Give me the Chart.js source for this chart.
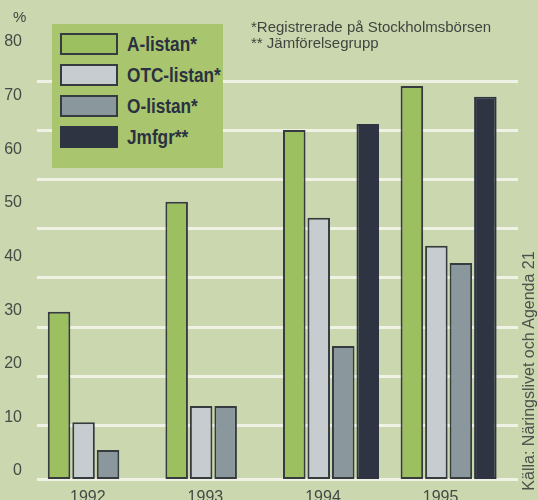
<!DOCTYPE html>
<html>
<head>
<meta charset="utf-8">
<script src="https://cdn.jsdelivr.net/npm/chart.js"></script>
<style>
  body { margin: 0; background: #cbd7af; overflow: hidden; }
  #wrap { position: relative; width: 538px; height: 500px; }
  #myChart { position: absolute; left: 0; top: 0; }
  .txt { position: absolute; font-family: "Liberation Sans", Arial, sans-serif; color: #3f443e; white-space: nowrap; }
  #pct { left: 13px; top: 8px; font-size: 15px; }
  #note { left: 251px; top: 19px; font-size: 15px; line-height: 16px; }
  #source { left: 399px; top: 361px; width: 260px; height: 20px; line-height: 20px; font-size: 16px;
            text-align: center; transform: rotate(-90deg); color: #4c514b; }
  #legend { position: absolute; left: 52px; top: 24px; width: 171px; height: 144px;
            background: #a9c66f; box-sizing: border-box; padding-top: 9px; }
  #legend .item { height: 31px; display: flex; align-items: flex-start; white-space: nowrap; }
  #legend .swatch { display: inline-block; flex: none; width: 58px; height: 22px; margin-left: 8px;
                    box-sizing: border-box; border: 2px solid #363b3f; }
  #legend .lbl { display: inline-block; margin-left: 9px; line-height: 22px; font-size: 21px; font-weight: bold;
                 font-family: "Liberation Sans", Arial, sans-serif; color: #2b3140;
                 transform: scaleX(0.82); transform-origin: left center; }
</style>
</head>
<body>
<div id="wrap">
  <canvas id="myChart" width="538" height="500"></canvas>
  <div id="legend"></div>
  <div class="txt" id="pct">%</div>
  <div class="txt" id="note">*Registrerade på Stockholmsbörsen<br>** Jämförelsegrupp</div>
  <div class="txt" id="source">Källa: Näringslivet och Agenda 21</div>
</div>
<script>
//Bar chart of share (%) per year for the Stockholm lists and the comparison group

//Years on the x axis (also the tick labels)
var years = [1992, 1993, 1994, 1995];

//Series names and values (%)
var seriesNames = ["A-listan*", "OTC-listan*", "O-listan*", "Jmfgr**"];
var aListan = [31.2, 51.7, 65.1, 73.3];
var otcListan = [10.6, 13.6, 48.7, 43.5];
var oListan = [5.4, 13.6, 24.8, 40.3];
var jmfgr = [null, null, 66.2, 71.3];

var fillColors = ["#9cc060", "#c6cccf", "#8a989d", "#2f3443"];
var borderCol = "#363b3f";
var gridCol = "#eff2e4";
var tickCol = "#454a45";
var tickFont = { family: "Liberation Sans", size: 16 };

//build one dataset per series
var datasets = [aListan, otcListan, oListan, jmfgr].map(function (vals, i) {
    return {
        label: seriesNames[i],
        data: years.map(function (yr, j) { return { x: yr, y: vals[j] }; }),
        backgroundColor: fillColors[i],
        borderColor: i === 3 ? fillColors[3] : borderCol,
        borderWidth: 2,
        borderSkipped: false,
        categoryPercentage: 0.833,
        barPercentage: 0.92
    };
});

var infoChart = new Chart("myChart", {
    type: "bar",
    data: { datasets: datasets },
    options: {
        responsive: false,
        animation: false,
        layout: { padding: { top: 50, right: 20, left: 0, bottom: 0 } },
        plugins: { legend: { display: false }, tooltip: { enabled: false } },
        scales: {
            x: {
                type: "linear",
                offset: false,
                min: 1991.5,
                max: 1995.59,
                grid: { display: false, offset: false },
                border: { display: false },
                ticks: {
                    stepSize: 1, includeBounds: false, autoSkip: false, labelOffset: -8, padding: 1,
                    color: tickCol, font: tickFont,
                    callback: function (v) { return Number.isInteger(v) ? String(v) : null; }
                },
                afterFit: function (s) { s.height = 21; }
            },
            y: {
                min: 0,
                max: 80,
                grid: { display: false },
                border: { display: false },
                ticks: { stepSize: 10, labelOffset: -8, padding: 7, color: tickCol, font: tickFont },
                afterFit: function (s) { s.width = 37; }
            },
            //decorative white rules, spaced like the original print
            g: {
                position: "left",
                min: -0.102,
                max: 8.653,
                border: { display: false },
                ticks: { display: false, stepSize: 1, maxTicksLimit: 20 },
                grid: {
                    drawTicks: false,
                    lineWidth: 3,
                    color: function (c) {
                        var v = c.tick.value;
                        return (v < 0 || (v >= 1 && v <= 8)) ? gridCol : "rgba(0,0,0,0)";
                    }
                },
                afterFit: function (s) { s.width = 0; }
            }
        }
    }
});

//HTML legend from the chart's datasets
var legendBox = document.getElementById("legend");
infoChart.data.datasets.forEach(function (ds) {
    var row = document.createElement("div");
    row.className = "item";
    var sw = document.createElement("span");
    sw.className = "swatch";
    sw.style.background = ds.backgroundColor;
    sw.style.borderColor = ds.borderColor;
    var tx = document.createElement("span");
    tx.className = "lbl";
    tx.textContent = ds.label;
    row.appendChild(sw);
    row.appendChild(tx);
    legendBox.appendChild(row);
});
</script>
</body>
</html>
